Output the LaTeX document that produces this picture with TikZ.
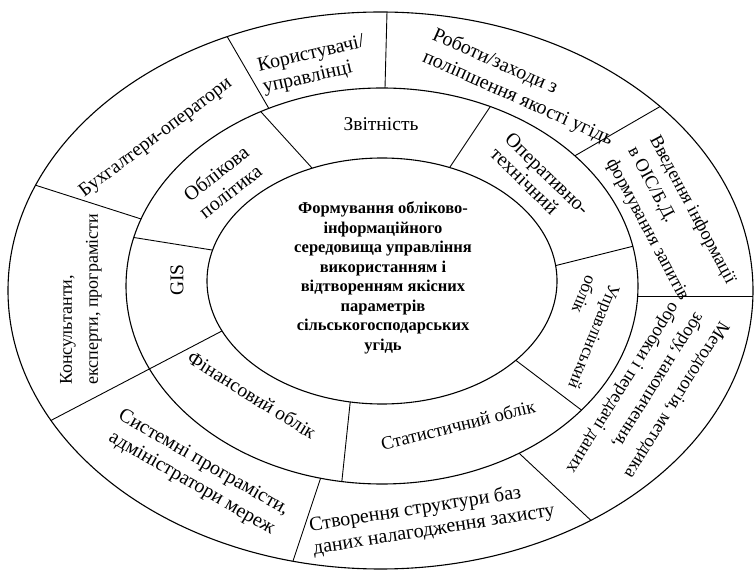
\documentclass[tikz,border=0pt]{standalone}
\usepackage{fontspec}
\setmainfont{Liberation Serif}
\begin{document}
\begin{tikzpicture}[x=1pt,y=-1pt,
  ring/.style={line width=1.1pt},
  divline/.style={line width=0.9pt, shorten <=-25pt, shorten >=-25pt},
  lbl/.style={inner sep=0pt},
  fs/.style 2 args={font=\fontsize{#1}{#2}\selectfont},
  ctr/.style={font=\fontsize{16.5}{19.5}\selectfont\bfseries, align=center, inner sep=0pt}]
\useasboundingbox (0,0) rectangle (756,577);
% ellipse centres
\coordinate (co) at (380.5,290.5);
\coordinate (cm) at (382,286);
\coordinate (ci) at (382,281);
% outer ring dividers
\coordinate (o1a) at (228,38);  \coordinate (o1b) at (268,107);
\coordinate (o2a) at (387,12);  \coordinate (o2b) at (385,88);
\coordinate (o3a) at (661,106); \coordinate (o3b) at (578,154);
\coordinate (o4a) at (638,296); \coordinate (o4b) at (753,296);
\coordinate (o5a) at (521,455); \coordinate (o5b) at (598,527);
\coordinate (o6a) at (320,480); \coordinate (o6b) at (290,570);
\coordinate (o7a) at (48,422);  \coordinate (o7b) at (220,332);
\coordinate (o8a) at (38,186);  \coordinate (o8b) at (138,218);
% middle ring dividers
\coordinate (m1a) at (262,113); \coordinate (m1b) at (312,168);
\coordinate (m2a) at (488,110); \coordinate (m2b) at (450,167);
\coordinate (m3a) at (558,265); \coordinate (m3b) at (630,247);
\coordinate (m4a) at (518,362); \coordinate (m4b) at (580,409);
\coordinate (m5a) at (350,404); \coordinate (m5b) at (342,480);
\coordinate (m7a) at (137,238); \coordinate (m7b) at (212,250);

\begin{scope}
  \clip (co) ellipse [x radius=372.5pt, y radius=278.5pt];
  \foreach \p in {1,...,8} {\draw[divline] (o\p a) -- (o\p b);}
\end{scope}
\fill[white] (cm) ellipse [x radius=256pt, y radius=198pt];
\begin{scope}
  \clip (cm) ellipse [x radius=256pt, y radius=198pt];
  \foreach \p in {1,2,3,4,5,7} {\draw[divline] (m\p a) -- (m\p b);}
  \draw[divline] (o7a) -- (o7b);
\end{scope}
\fill[white] (ci) ellipse [x radius=175pt, y radius=123pt];
\draw[ring] (co) ellipse [x radius=372.5pt, y radius=278.5pt];
\draw[ring] (cm) ellipse [x radius=256pt, y radius=198pt];
\draw[ring] (ci) ellipse [x radius=175pt, y radius=123pt];

\node[ctr] (core) at (383,278) {Формування обліково-\\інформаційного\\середовища управління\\використанням і\\відтворенням якісних\\параметрів\\сільськогосподарських\\угідь};

% middle ring
\node[lbl,fs={19.5}{23}] (zvit) at (381,124) {Звітність};
\node[lbl,fs={20}{23},align=center,rotate=38] (oblpol) at (223,182) {Облікова\\політика};
\node[lbl,fs={19.5}{23},rotate=90] (gis) at (177,280) {GIS};
\node[lbl,fs={19.5}{23},rotate=-32] (fin) at (252,395) {Фінансовий облік};
\node[lbl,fs={18.6}{23},rotate=14] (stat) at (458,425) {Статистичний облік};
\node[lbl,fs={17.5}{25},align=left,rotate=-112,anchor=north west] (upr) at (621,288) {Управлінський\\облік};
\node[lbl,fs={20}{21},align=left,rotate=-44,anchor=north west] (oper) at (513,131) {Оперативно-\\технічний};

% outer ring
\node[lbl,fs={19.5}{23},rotate=37] (buh) at (156,138) {Бухгалтери-оператори};
\node[lbl,fs={20}{22.5},align=left,rotate=13,anchor=north west] (kor) at (256,58) {Користувачі/\\управлінці};
\node[lbl,fs={20}{24},align=left,rotate=-24,anchor=north west] (rob) at (437,26) {Роботи/заходи з\\поліпшення якості угідь};
\node[lbl,fs={18.5}{24.5},align=left,rotate=-62,anchor=north west] (vved) at (661,133) {Введення інформації\\в ОІС/Б.Д.\\формування запитів};
\node[lbl,fs={18.5}{26},align=left,rotate=-122,anchor=north west] (met) at (731,327) {Методологія, методика\\\hspace*{5pt}збору, накопичення,\\\hspace*{10pt}обробки і передачі даних};
\node[lbl,fs={20}{23},align=left,rotate=9,anchor=north west] (stv) at (308,517) {Створення структури баз\\даних налагодження захисту};
\node[lbl,fs={20}{24},align=center,rotate=-30] (sys) at (197.5,473.5) {Системні програмісти,\\адміністратори мереж};
\node[lbl,fs={18}{26},align=left,rotate=90,anchor=north west] (kons) at (60,385) {Консультанти,\\експерти, програмісти};
\end{tikzpicture}
\end{document}
